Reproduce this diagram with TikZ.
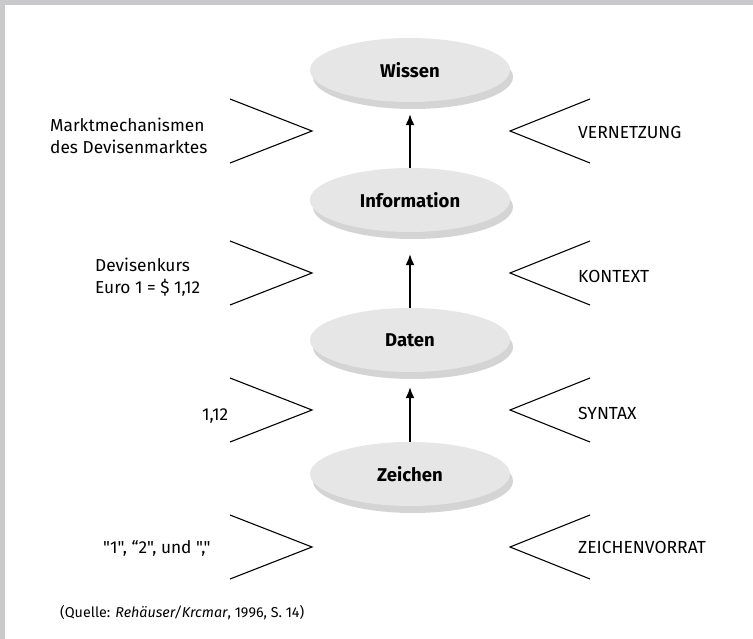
\documentclass[tikz,border=0pt]{standalone}
\usepackage{fontspec}
\setmainfont{Fira Sans}[Ligatures=TeXOff]
\usetikzlibrary{shapes.geometric,shadows,arrows.meta}

\definecolor{rahmen}{HTML}{C9C9CB}
\definecolor{ellfill}{HTML}{E6E6E6}
\definecolor{ellshadow}{HTML}{D4D4D4}

\begin{document}
\begin{tikzpicture}[x=1pt,y=-1pt,
  ebene/.style={ellipse, fill=ellfill, minimum width=200pt, minimum height=64pt,
    inner sep=0pt, font=\bfseries\fontsize{18.5}{20}\selectfont,
    drop shadow={shadow xshift=3pt, shadow yshift=-7pt, fill=ellshadow, opacity=1}},
  pfeil/.style={-{Latex[length=11pt,width=9pt]}, line width=1.6pt},
  zacke/.style={line width=1.1pt},
  links/.style={anchor=west, align=left, inner sep=0pt,
    font=\fontsize{17.3}{22}\selectfont},
  rechts/.style={anchor=west, inner sep=0pt, font=\fontsize{17.5}{22}\selectfont}]
  % frame
  \fill[white] (0,0) rectangle (753,639);
  \fill[rahmen] (0,0) rectangle (753,5);
  \fill[rahmen] (0,0) rectangle (5,639);
  \useasboundingbox (0,0) rectangle (753,639);

  % levels
  \node[ebene] (wissen)      at (410,70)  {Wissen};
  \node[ebene] (information) at (410,200) {Information};
  \node[ebene] (daten)       at (410,340) {Daten};
  \node[ebene] (zeichen)     at (410,474) {Zeichen};
  \draw[pfeil] (information.north) -- ([yshift=-12pt]wissen.south);
  \draw[pfeil] (daten.north)       -- ([yshift=-22pt]information.south);
  \draw[pfeil] (zeichen.north)     -- ([yshift=-15pt]daten.south);

  % brackets
  \foreach \y in {131,273,410,547} {
    \draw[zacke] (230,\y-32) -- (312,\y) -- (230,\y+32);
    \draw[zacke] (590,\y-32) -- (510,\y) -- (590,\y+32);
  }

  % left texts
  \node[links] (markt)   at (50,136)  {Marktmechanismen\\des Devisenmarktes};
  \node[links] (kurs)    at (95,277)  {Devisenkurs\\Euro 1 = \$ 1,12};
  \node[links] (wert)    at (202,416) {1,12};
  \node[links] (vorrat)  at (103,548) {"1", “2", und ","};

  % right texts
  \node[rechts] (vernetzung) at (578,132) {VERNETZUNG};
  \node[rechts] (kontext)    at (578,276) {KONTEXT};
  \node[rechts] (syntax)     at (578,413) {SYNTAX};
  \node[rechts] (zvorrat)    at (578,547) {ZEICHENVORRAT};

  \node[anchor=west, inner sep=0pt, font=\fontsize{14.3}{16}\selectfont] (quelle)
    at (60,613) {(Quelle: \textit{Rehäuser/Krcmar}, 1996, S. 14)};
\end{tikzpicture}
\end{document}
